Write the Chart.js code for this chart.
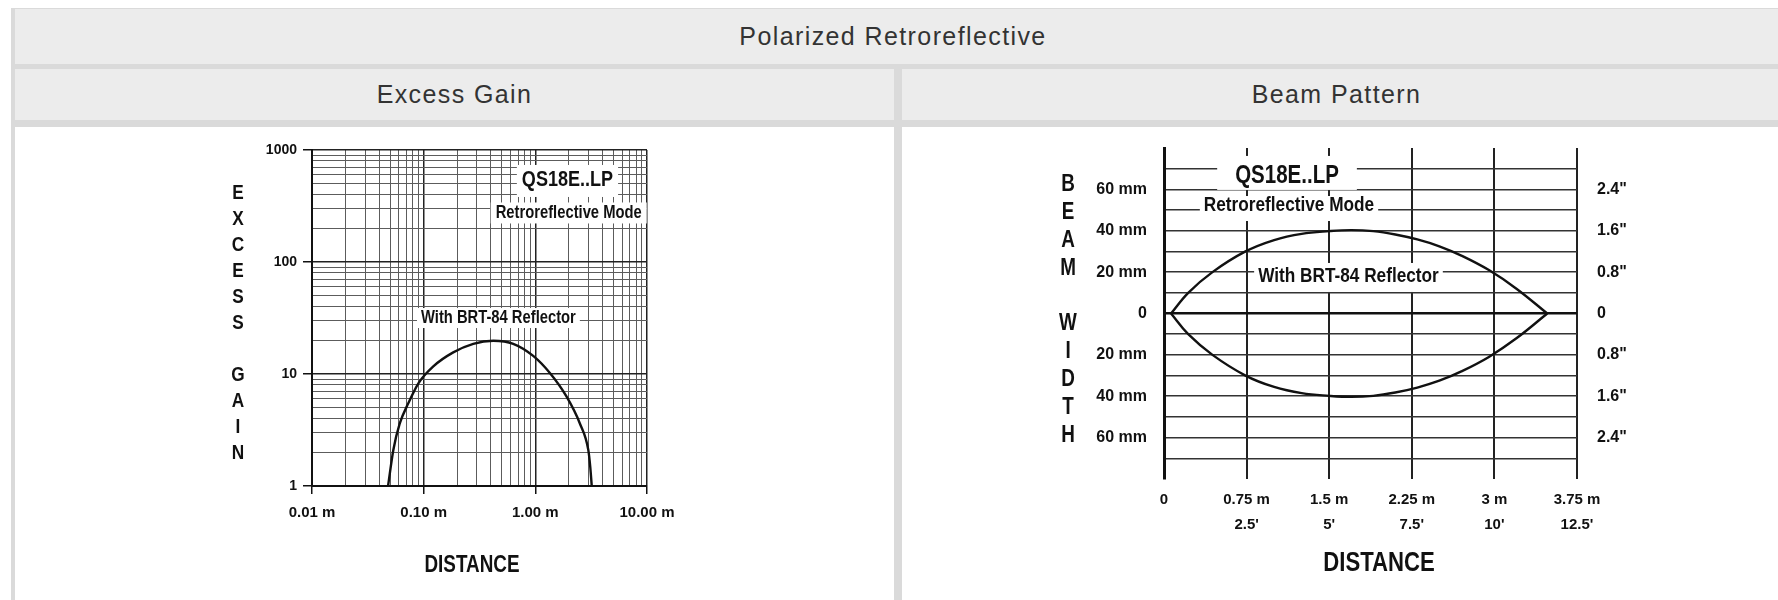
<!DOCTYPE html>
<html>
<head>
<meta charset="utf-8">
<script src="https://cdn.jsdelivr.net/npm/chart.js@4.4.1/dist/chart.umd.min.js"></script>
<style>
body{margin:0;background:#fff;width:1778px;height:600px;overflow:hidden;position:relative;font-family:'Liberation Sans',Arial,sans-serif}
.frame{position:absolute;left:11px;top:8px;width:1767px;height:592px;background:#dadada}
.cell{position:absolute;background:#ececec;color:#333;font-size:25px;letter-spacing:1.4px;display:flex;align-items:center;justify-content:center}
.body{position:absolute;background:#fff;top:127px;height:473px}
canvas{position:absolute;left:0;top:0}
</style>
</head>
<body>
<div class="frame"></div>
<div class="cell" style="left:15px;top:9px;width:1756px;padding-right:7px;height:55px">Polarized Retroreflective</div>
<div class="cell" style="left:15px;top:69px;width:879px;height:51px">Excess Gain</div>
<div class="cell" style="left:902px;top:69px;width:869px;padding-right:7px;height:51px">Beam Pattern</div>
<div class="body" style="left:15px;width:879px"><canvas id="gainChart" width="879" height="473"></canvas></div>
<div class="body" style="left:902px;width:876px"><canvas id="beamChart" width="876" height="473"></canvas></div>
<script>
const sans = "'Liberation Sans', Arial, sans-serif"
Chart.defaults.font.family = sans
Chart.defaults.font.weight = 'bold'
Chart.defaults.color = '#111'

// excess gain (log / log)
const gainDistance = [0.048, 0.0535, 0.061, 0.073, 0.09, 0.122, 0.184, 0.278, 0.42, 0.634, 0.957, 1.35, 1.9, 2.51, 2.98, 3.1, 3.2]
const gainValues = [1, 2.1, 3.6, 5.5, 8.3, 11.7, 15.6, 18.6, 19.8, 18.6, 14.5, 10.2, 6.3, 3.6, 2.1, 1.5, 1]
const gainXTicks = [0.01, 0.1, 1, 10]
const gainXLabels = ['0.01 m', '0.10 m', '1.00 m', '10.00 m']
const gainYTicks = [1, 10, 100, 1000]
const gainYLabels = ['1', '10', '100', '1000']

// beam pattern
const beamDistance = [0.064, 0.22, 0.44, 0.74, 1.0, 1.25, 1.5, 1.7, 1.9, 2.1, 2.3, 2.5, 2.7, 2.95, 3.2, 3.48]
const beamUpper = [0, 10, 20, 30, 35.5, 38.5, 39.8, 40.3, 39.8, 38.2, 35.8, 32.5, 28, 21, 12, 0]
const beamLower = [0, -10, -20, -30, -35.5, -38.5, -39.8, -40.3, -39.8, -38.2, -35.8, -32.5, -28, -21, -12, 0]
const beamXTicks = [0, 0.75, 1.5, 2.25, 3, 3.75]
const beamXLabelsM = ['0', '0.75 m', '1.5 m', '2.25 m', '3 m', '3.75 m']
const beamXLabelsFt = ['', "2.5'", "5'", "7.5'", "10'", "12.5'"]
const beamYTicks = [70, 60, 50, 40, 30, 20, 10, 0, -10, -20, -30, -40, -50, -60, -70]
const beamYLabelsMm = ['', '60 mm', '', '40 mm', '', '20 mm', '', '0', '', '20 mm', '', '40 mm', '', '60 mm', '']
const beamYLabelsIn = ['', '2.4"', '', '1.6"', '', '0.8"', '', '0', '', '0.8"', '', '1.6"', '', '2.4"', '']

// decade lines plus 2..9 in between
const logTicks = (majors) => {
  const out = []
  majors.forEach((m, i) => {
    out.push({value: m, major: true})
    if (i < majors.length - 1) for (let k = 2; k <= 9; k++) out.push({value: m * k, major: false})
  })
  return out
}

const toPoints = (xs, ys) => xs.map((x, i) => ({x: x, y: ys[i]}))

// no extra room for half labels, the boxes are sized by hand
const fixBox = (w, h) => s => {
  if (w) s.width = w
  if (h) s.height = h
  s.paddingTop = 0; s.paddingBottom = 0; s.paddingLeft = 0; s.paddingRight = 0
}

// narrow bold text (squeezed Liberation Sans)
const SQUEEZE = 0.82
const narrowText = (ctx, text, x, y, size) => {
  ctx.save()
  ctx.font = 'bold ' + size + 'px ' + sans
  ctx.translate(x, y)
  ctx.scale(SQUEEZE, 1)
  ctx.fillText(text, 0, 0)
  ctx.restore()
}

const notes = {
  id: 'notes',
  beforeDatasetsDraw(chart, args, opts) {
    const ctx = chart.ctx
    const xs = chart.scales.x, ys = chart.scales.y
    const area = chart.chartArea
    ctx.save()
    ctx.textAlign = 'center'
    ctx.textBaseline = 'middle'
    opts.items.forEach(n => {
      ctx.font = 'bold ' + n.size + 'px ' + sans
      const w = ctx.measureText(n.text).width * SQUEEZE
      const x = xs.getPixelForValue(n.x)
      const y = ys.getPixelForValue(n.y)
      ctx.fillStyle = '#fff'
      ctx.fillRect(x - w / 2 - n.padX, y + (n.dy || 0) - n.h / 2, w + 2 * n.padX, n.h)
      ctx.fillStyle = '#111'
      narrowText(ctx, n.text, x, y, n.size)
    })
    const s = opts.side
    s.text.split('').forEach((ch, i) => {
      if (ch !== ' ') narrowText(ctx, ch, area.left + s.dx, area.top + s.dy + i * s.step, s.size)
    })
    const t = opts.title
    narrowText(ctx, t.text, area.left + t.dx, area.bottom + t.dy, t.size)
    ctx.restore()
  }
}

new Chart(document.getElementById('gainChart'), {
  type: 'line',
  data: {
    datasets: [{
      data: toPoints(gainDistance, gainValues),
      borderColor: '#111',
      borderWidth: 2.4,
      pointRadius: 0,
      cubicInterpolationMode: 'monotone',
      fill: false
    }]
  },
  options: {
    responsive: false,
    animation: false,
    layout: {padding: {left: 197, right: 247, top: 23, bottom: 23}},
    plugins: {
      legend: {display: false},
      tooltip: {enabled: false},
      notes: {
        items: [
          {text: 'QS18E..LP', x: 1.94, y: 540, size: 22, padX: 5, h: 32, dy: 1},
          {text: 'Retroreflective Mode', x: 1.99, y: 274, size: 18, padX: 5, h: 21},
          {text: 'With BRT-84 Reflector', x: 0.467, y: 31.6, size: 18, padX: 4, h: 20}
        ],
        side: {text: 'EXCESS GAIN', dx: -74, dy: 43, step: 26, size: 21},
        title: {text: 'DISTANCE', dx: 160, dy: 80, size: 23}
      }
    },
    scales: {
      x: {
        type: 'logarithmic',
        min: 0.01,
        max: 10,
        afterBuildTicks: s => { s.ticks = logTicks(gainXTicks) },
        afterFit: fixBox(0, 91),
        ticks: {
          autoSkip: false,
          maxRotation: 0,
          padding: 10,
          font: {size: 15},
          callback: v => { const i = gainXTicks.indexOf(v); return i < 0 ? '' : gainXLabels[i] }
        },
        grid: {
          color: c => c.tick && c.tick.major ? '#222' : '#5c5c5c',
          lineWidth: c => c.tick && c.tick.major ? 1.5 : 1,
          tickColor: c => c.tick && c.tick.major ? '#111' : 'rgba(0,0,0,0)',
          tickLength: 8
        },
        border: {display: true, color: '#111', width: 2}
      },
      y: {
        type: 'logarithmic',
        min: 1,
        max: 1000,
        afterBuildTicks: s => { s.ticks = logTicks(gainYTicks) },
        afterFit: fixBox(100, 0),
        ticks: {
          autoSkip: false,
          padding: 6,
          font: {size: 14},
          callback: v => { const i = gainYTicks.indexOf(v); return i < 0 ? '' : gainYLabels[i] }
        },
        grid: {
          color: c => c.tick && c.tick.major ? '#222' : '#5c5c5c',
          lineWidth: c => c.tick && c.tick.major ? 1.5 : 1,
          tickColor: c => c.tick && c.tick.major ? '#111' : 'rgba(0,0,0,0)',
          tickLength: 9
        },
        border: {display: true, color: '#111', width: 2}
      }
    }
  },
  plugins: [notes]
})

new Chart(document.getElementById('beamChart'), {
  type: 'line',
  data: {
    datasets: [
      {data: toPoints(beamDistance, beamUpper), borderColor: '#111', borderWidth: 2.4, pointRadius: 0, tension: 0.4, fill: false},
      {data: toPoints(beamDistance, beamLower), borderColor: '#111', borderWidth: 2.4, pointRadius: 0, tension: 0.4, fill: false}
    ]
  },
  options: {
    responsive: false,
    animation: false,
    layout: {padding: {left: 152, right: 91, top: 21, bottom: 22}},
    plugins: {
      legend: {display: false},
      tooltip: {enabled: false},
      notes: {
        items: [
          {text: 'QS18E..LP', x: 1.117, y: 66.5, size: 25, padX: 18, h: 34, dy: -3},
          {text: 'Retroreflective Mode', x: 1.135, y: 52.2, size: 21, padX: 4, h: 25, dy: 3},
          {text: 'With BRT-84 Reflector', x: 1.675, y: 17.9, size: 21, padX: 4, h: 29, dy: 1}
        ],
        side: {text: 'BEAM WIDTH', dx: -96, dy: 37, step: 27.8, size: 23},
        title: {text: 'DISTANCE', dx: 215, dy: 85, size: 27}
      }
    },
    scales: {
      x: {
        type: 'linear',
        min: 0,
        max: 3.75,
        afterBuildTicks: s => { s.ticks = beamXTicks.map(v => ({value: v})) },
        afterFit: fixBox(0, 99),
        ticks: {
          autoSkip: false,
          maxRotation: 0,
          padding: 8,
          font: {size: 15, lineHeight: 1.67},
          callback: v => { const i = beamXTicks.indexOf(v); return [beamXLabelsM[i], beamXLabelsFt[i]] }
        },
        grid: {color: '#222', lineWidth: 2, drawTicks: false},
        border: {display: false}
      },
      y: {
        type: 'linear',
        position: 'left',
        min: -80,
        max: 80,
        afterBuildTicks: s => { s.ticks = beamYTicks.map(v => ({value: v})) },
        afterFit: fixBox(110, 0),
        ticks: {
          autoSkip: false,
          padding: 17,
          font: {size: 16},
          callback: v => beamYLabelsMm[beamYTicks.indexOf(v)]
        },
        grid: {
          color: c => c.tick && c.tick.value === 0 ? '#111' : '#333',
          lineWidth: c => c.tick && c.tick.value === 0 ? 2.6 : 1.6,
          drawTicks: false
        },
        border: {display: true, color: '#111', width: 3}
      },
      yIn: {
        type: 'linear',
        position: 'right',
        min: -80,
        max: 80,
        afterBuildTicks: s => { s.ticks = beamYTicks.map(v => ({value: v})) },
        afterFit: fixBox(110, 0),
        ticks: {
          autoSkip: false,
          padding: 20,
          font: {size: 16},
          callback: v => beamYLabelsIn[beamYTicks.indexOf(v)]
        },
        grid: {display: false, drawTicks: false},
        border: {display: false}
      }
    }
  },
  plugins: [notes]
})
</script>
</body>
</html>
